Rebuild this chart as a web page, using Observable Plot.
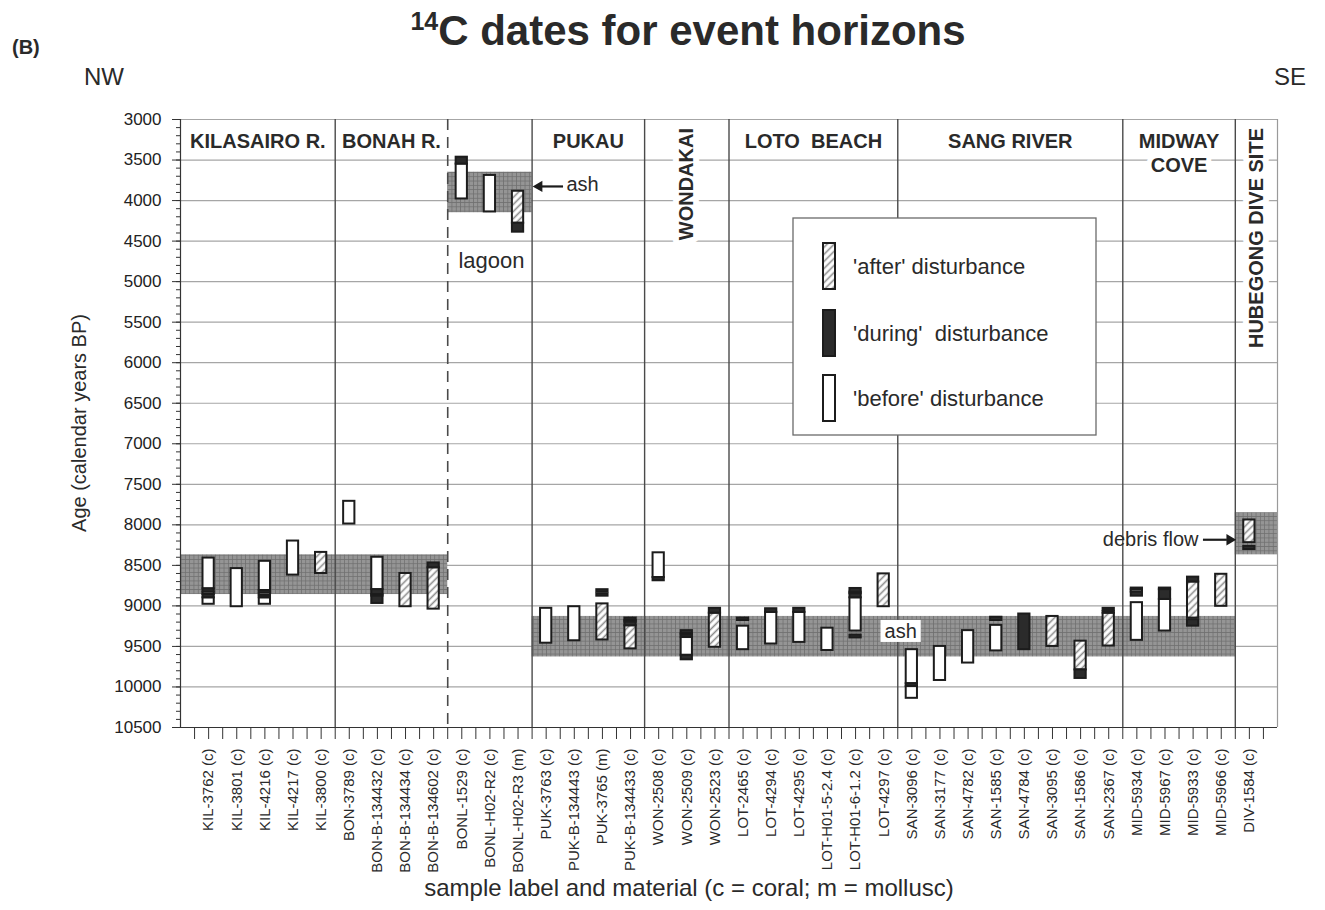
<!DOCTYPE html>
<html>
<head>
<meta charset="utf-8">
<script src="https://cdn.jsdelivr.net/npm/d3@7"></script>
<script src="https://cdn.jsdelivr.net/npm/@observablehq/plot@0.6"></script>
<style>
  html, body { margin: 0; padding: 0; background: #fff; }
  #chart svg { display: block; }
</style>
</head>
<body>
<div id="chart"></div>
<script>
// ---------------- data ----------------
const samples = [
  "KIL-3762 (c)", "KIL-3801 (c)", "KIL-4216 (c)", "KIL-4217 (c)", "KIL-3800 (c)",
  "BON-3789 (c)", "BON-B-134432 (c)", "BON-B-134434 (c)", "BON-B-134602 (c)",
  "BONL-1529 (c)", "BONL-H02-R2 (c)", "BONL-H02-R3 (m)",
  "PUK-3763 (c)", "PUK-B-134443 (c)", "PUK-3765 (m)", "PUK-B-134433 (c)",
  "WON-2508 (c)", "WON-2509 (c)", "WON-2523 (c)",
  "LOT-2465 (c)", "LOT-4294 (c)", "LOT-4295 (c)", "LOT-H01-5-2.4 (c)", "LOT-H01-6-1.2 (c)", "LOT-4297 (c)",
  "SAN-3096 (c)", "SAN-3177 (c)", "SAN-4782 (c)", "SAN-1585 (c)", "SAN-4784 (c)", "SAN-3095 (c)", "SAN-1586 (c)", "SAN-2367 (c)",
  "MID-5934 (c)", "MID-5967 (c)", "MID-5933 (c)", "MID-5966 (c)",
  "DIV-1584 (c)"
];
const sectionNames = ["KILASAIRO R.", "BONAH R.", "", "PUKAU", "WONDAKAI", "LOTO\u00A0 BEACH", "SANG RIVER", "MIDWAY\nCOVE", "HUBEGONG DIVE SITE"];
const sectionSizes = [5, 4, 3, 4, 3, 6, 8, 4, 1];
const verticalTitles = ["WONDAKAI", "HUBEGONG DIVE SITE"];

const yTicks = [3000, 3500, 4000, 4500, 5000, 5500, 6000, 6500, 7000, 7500, 8000, 8500, 9000, 9500, 10000, 10500];

// event-horizon bands: [first section, last section]
const bandSections = [[0, 1], [2, 2], [3, 7], [8, 8]];
const bandFrom = [8370, 3650, 9130, 7850];
const bandTo   = [8860, 4150, 9630, 8370];

// [sample index, from (yr BP), to (yr BP)]
const beforeSegs = [
  [0, 8410, 8790], [0, 8830, 8860], [0, 8900, 8980],
  [1, 8540, 9010],
  [2, 8450, 8810], [2, 8840, 8870], [2, 8900, 8980],
  [3, 8200, 8620],
  [5, 7710, 7990],
  [6, 8400, 8800], [6, 8860, 8880],
  [9, 3550, 3980],
  [10, 3690, 4140],
  [12, 9030, 9460],
  [13, 9010, 9430],
  [15, 9180, 9200],
  [16, 8345, 8650],
  [17, 9340, 9360], [17, 9390, 9610],
  [19, 9250, 9540],
  [20, 9080, 9470],
  [21, 9080, 9450],
  [22, 9275, 9550],
  [23, 8830, 8850], [23, 8900, 9310],
  [25, 9540, 9960], [25, 9995, 10140],
  [26, 9500, 9920],
  [27, 9305, 9705],
  [28, 9240, 9555],
  [33, 8800, 8830], [33, 8960, 9425],
  [34, 8780, 8800], [34, 8920, 9310]
];
const duringSegs = [
  [0, 8790, 8830], [0, 8860, 8900],
  [2, 8810, 8840], [2, 8870, 8900],
  [6, 8800, 8860], [6, 8880, 8970],
  [8, 8470, 8530],
  [9, 3465, 3550],
  [11, 4280, 4390],
  [14, 8800, 8830], [14, 8850, 8880],
  [15, 9150, 9180], [15, 9200, 9245],
  [16, 8650, 8690],
  [17, 9305, 9340], [17, 9360, 9390], [17, 9610, 9665],
  [18, 9030, 9090],
  [19, 9150, 9180],
  [20, 9035, 9080],
  [21, 9030, 9080],
  [23, 8785, 8830], [23, 8850, 8900], [23, 9360, 9395],
  [25, 9960, 9995],
  [28, 9140, 9180],
  [29, 9100, 9540],
  [31, 9790, 9895],
  [32, 9030, 9055], [32, 9070, 9090],
  [33, 8780, 8800], [33, 8830, 8880],
  [34, 8800, 8920],
  [35, 8645, 8705], [35, 9170, 9250],
  [37, 8265, 8305]
];
const afterSegs = [
  [4, 8340, 8600],
  [7, 8600, 9010],
  [8, 8530, 9040],
  [11, 3885, 4280],
  [14, 8975, 9420],
  [15, 9245, 9530],
  [18, 9090, 9510],
  [24, 8605, 9010],
  [30, 9130, 9500],
  [31, 9435, 9790],
  [32, 9090, 9495],
  [35, 8705, 9150],
  [36, 8610, 9005],
  [37, 7940, 8220]
];

// annotations (x in sample-slot units, y in years BP)
const noteText   = ["ash", "lagoon", "ash", "debris flow"];
const noteX      = [12.72, 8.88, 24.62, 35.19];
const noteY      = [3800, 4740, 9315, 8187];
const noteAnchor = ["start", "start", "middle", "end"];
const noteSize   = [20, 22, 20, 20];
const arrowFromX = [12.6, 35.35];
const arrowToX   = [11.55, 36.5];
const arrowY     = [3826, 8184];

const legendLabels = ["'after' disturbance", "'during'\u00A0 disturbance", "'before' disturbance"];

// ---------------- derived ----------------
const W = 1325, H = 910;
const xMin = -1, xMax = samples.length;
const bw = 0.2;
let acc = 0;
const sections = sectionNames.map((name, k) => {
  const first = acc, last = acc + sectionSizes[k] - 1;
  acc += sectionSizes[k];
  return {name, first, last,
    x1: k === 0 ? xMin : first - 0.5,
    x2: k === sectionNames.length - 1 ? xMax : last + 0.5};
});
sections.forEach(s => s.xc = (s.x1 + s.x2) / 2);
const dividers = sections.slice(1).map(s => s.x1);
const dashedDivider = sections[2].x1;
const solidDividers = dividers.filter(d => d !== dashedDivider);
const bands = bandSections.map(([a, b], k) => ({x1: sections[a].x1, x2: sections[b].x2, y1: bandFrom[k], y2: bandTo[k]}));
const horizTitles = sections.filter(s => s.name && !verticalTitles.includes(s.name));
const vertTitles = sections.filter(s => verticalTitles.includes(s.name));
const notes = noteText.map((t, i) => ({t, x: noteX[i], y: noteY[i], anchor: noteAnchor[i], size: noteSize[i]}));
const arrows = arrowFromX.map((x, i) => ({x1: x, x2: arrowToX[i], y: arrowY[i]}));

const ink = "#1c1c1c";
const txt = "#2a2a2a";
const segMark = (data, fill) => Plot.rect(data, {
  x1: d => d[0] - bw, x2: d => d[0] + bw, y1: d => d[1], y2: d => d[2],
  fill, stroke: ink, strokeWidth: 2
});
const noteMark = (anchor) => Plot.text(notes.filter(n => n.anchor === anchor), {
  x: "x", y: "y", text: "t", textAnchor: anchor, fontSize: "size", fill: txt
});

const plot = Plot.plot({
  width: W, height: H,
  marginLeft: 180, marginRight: 48, marginTop: 119, marginBottom: 183,
  style: {fontFamily: "'Liberation Sans', Arial, Helvetica, sans-serif", background: "#fff", color: "#222"},
  x: {domain: [xMin, xMax], axis: null},
  y: {domain: [3000, 10500], reverse: true, axis: null},
  marks: [
    Plot.ruleY(yTicks, {stroke: "#a6a6a6", strokeWidth: 1.2}),
    Plot.rect(bands, {x1: "x1", x2: "x2", y1: "y1", y2: "y2", fill: "url(#cross)"}),
    Plot.ruleX(solidDividers, {stroke: "#4a4a4a", strokeWidth: 1.4}),
    Plot.ruleX([dashedDivider], {stroke: "#4a4a4a", strokeWidth: 1.6, strokeDasharray: "11,7"}),
    Plot.text(horizTitles, {x: "xc", y: 3000, text: "name", lineAnchor: "top", dy: 12, lineHeight: 1.17,
      fontSize: 20, fontWeight: "bold", fill: txt, stroke: "#fff", strokeWidth: 10}),
    Plot.text(vertTitles, {x: "xc", y: 3105, text: "name", rotate: -90, textAnchor: "end",
      fontSize: 20, fontWeight: "bold", fill: txt, stroke: "#fff", strokeWidth: 12}),
    Plot.ruleX([xMax], {stroke: "#9a9a9a", strokeWidth: 1.2}),
    segMark(afterSegs, "url(#hatch)"),
    segMark(beforeSegs, "#fff"),
    segMark(duringSegs, "#2b2b2b"),
    Plot.axisY({ticks: yTicks, tickFormat: d => String(d), tickSize: 8, tickPadding: 11, fontSize: 17, label: null, stroke: "#333", fill: "#222"}),
    Plot.axisY({ticks: d3.range(3000, 10501, 100), tickSize: 4, fill: "none", label: null, stroke: "#333"}),
    Plot.axisX({ticks: d3.range(-0.5, xMax, 0.5), tickSize: 12, fill: "none", label: null, stroke: "#333"}),
    Plot.axisX({ticks: d3.range(samples.length), tickFormat: i => samples[i], tickRotate: -90, tickSize: 0, tickPadding: 21, fontSize: 15, label: null, fill: txt}),
    Plot.ruleX([xMin], {stroke: "#333", strokeWidth: 1.2}),
    Plot.ruleY([10500], {stroke: "#333", strokeWidth: 1.2}),
    // annotations
    Plot.link(arrows, {x1: "x1", x2: d => d.x2 + Math.sign(d.x1 - d.x2) * 0.3, y1: "y", y2: "y", stroke: ink, strokeWidth: 2.2}),
    Plot.dot(arrows, {x: d => d.x2 + Math.sign(d.x1 - d.x2) * 0.2, y: "y", symbol: "triangle", r: 4.2,
      rotate: d => d.x2 < d.x1 ? -90 : 90, fill: ink, stroke: "none"}),
    noteMark("start"),
    noteMark("end")
  ]
});

document.getElementById("chart").appendChild(plot);
const svg = d3.select(plot);
const xs = plot.scale("x"), ys = plot.scale("y");

// patterns
const defs = svg.insert("defs", ":first-child");
const cross = defs.append("pattern").attr("id", "cross").attr("patternUnits", "userSpaceOnUse")
  .attr("width", 4.3).attr("height", 4.3);
cross.append("rect").attr("width", 4.3).attr("height", 4.3).attr("fill", "#959595");
cross.append("path").attr("d", "M0,0.4H4.3M0.4,0V4.3").attr("stroke", "#6f6f6f").attr("stroke-width", 0.8);
const hatch = defs.append("pattern").attr("id", "hatch").attr("patternUnits", "userSpaceOnUse")
  .attr("width", 5).attr("height", 5).attr("patternTransform", "rotate(45)");
hatch.append("rect").attr("width", 5).attr("height", 5).attr("fill", "#fff");
hatch.append("line").attr("x1", 2.5).attr("x2", 2.5).attr("y1", 0).attr("y2", 5)
  .attr("stroke", "#8a8a8a").attr("stroke-width", 1.6);

// boxed note(s): white box + text, placed through the plot's scales
notes.filter(n => n.anchor === "middle").forEach(n => {
  const cx = xs.apply(n.x), cy = ys.apply(n.y);
  const g = svg.append("g").attr("fill", txt).attr("font-size", n.size).attr("text-anchor", "middle");
  const tx = g.append("text").attr("x", cx).attr("y", cy).attr("dy", "0.35em").text(n.t);
  const b = tx.node().getBBox();
  g.insert("rect", "text").attr("x", b.x - 4).attr("y", b.y).attr("width", b.width + 8).attr("height", b.height)
    .attr("fill", "#fff");
});

// legend
const lg = svg.append("g").attr("font-size", 22).attr("fill", txt).attr("text-anchor", "start");
lg.append("rect").attr("x", 793).attr("y", 218).attr("width", 303).attr("height", 217)
  .attr("fill", "#fff").attr("stroke", "#6a6a6a").attr("stroke-width", 1.3);
const legendFills = ["url(#hatch)", "#2b2b2b", "#fff"];
[266, 333, 398].forEach((cy, i) => {
  lg.append("rect").attr("x", 823).attr("y", cy - 23).attr("width", 12).attr("height", 46)
    .attr("fill", legendFills[i]).attr("stroke", ink).attr("stroke-width", 2);
  lg.append("text").attr("x", 853).attr("y", cy).attr("dy", "0.35em").text(legendLabels[i]);
});

// page texts
const page = svg.append("g").attr("fill", txt).attr("text-anchor", "start");
const t = page.append("text").attr("x", 688).attr("y", 45).attr("text-anchor", "middle")
  .attr("font-size", 42).attr("font-weight", "bold");
t.append("tspan").attr("font-size", 25).attr("dy", -15).text("14");
t.append("tspan").attr("dy", 15).text("C dates for event horizons");
page.append("text").attr("x", 12).attr("y", 54).attr("font-size", 20).attr("font-weight", "bold").text("(B)");
page.append("text").attr("x", 84).attr("y", 85).attr("font-size", 24).text("NW");
page.append("text").attr("x", 1306).attr("y", 85).attr("font-size", 24).attr("text-anchor", "end").text("SE");
page.append("text").attr("transform", "translate(86,423) rotate(-90)").attr("text-anchor", "middle")
  .attr("font-size", 20).text("Age (calendar years BP)");
page.append("text").attr("x", 689).attr("y", 896).attr("text-anchor", "middle")
  .attr("font-size", 24).text("sample label and material (c = coral; m = mollusc)");
</script>
</body>
</html>
